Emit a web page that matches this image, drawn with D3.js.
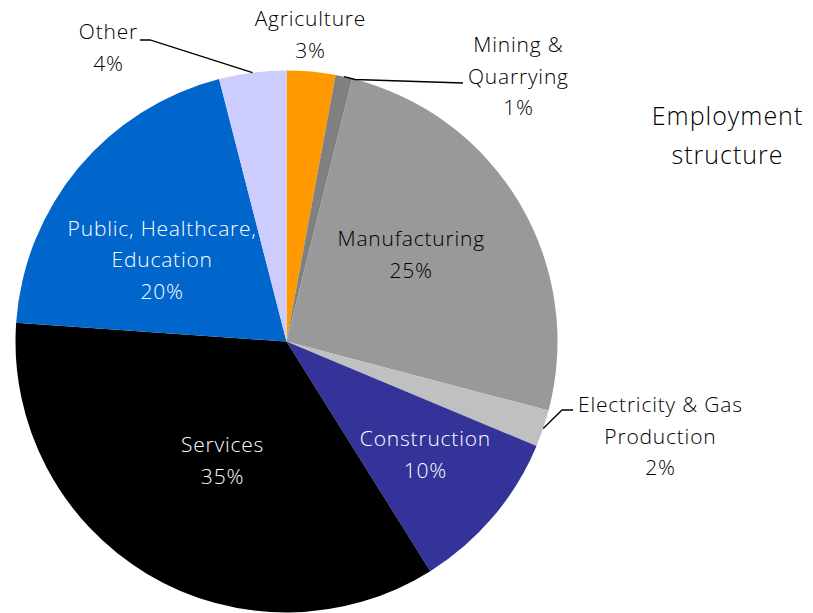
<!DOCTYPE html>
<html><head><meta charset="utf-8">
<script src="https://cdn.jsdelivr.net/npm/d3@7/dist/d3.min.js"></script>
<style>html,body{margin:0;padding:0;background:#fff;}svg{display:block;font-family:"Open Sans",Lato,sans-serif;font-weight:300;}</style>
</head><body>
<svg id="c" width="813" height="613"></svg>
<script>
const categories = ["Agriculture","Mining & Quarrying","Manufacturing","Electricity & Gas Production","Construction","Services","Public, Healthcare, Education","Other"];
const values = [2.9, 1.0, 25.2, 2.2, 9.8, 35.0, 19.9, 4.0];
const colors = ["#FF9900","#808080","#999999","#C0C0C0","#333399","#000000","#0066CC","#CCCCFF"];
const labelLines = [["Agriculture"],["Mining &","Quarrying"],["Manufacturing"],["Electricity & Gas","Production"],["Construction"],["Services"],["Public, Healthcare,","Education"],["Other"]];
const title = ["Employment","structure"];

const svg = d3.select("#c");
const cx = 286.5, cy = 341.5, R = 271;
const g = svg.append("g").attr("transform",`translate(${cx},${cy})`);
const pie = d3.pie().sort(null).value(d=>d);
const arcs = pie(values);
const arc = d3.arc().innerRadius(0).outerRadius(R);
g.selectAll("path").data(arcs).enter().append("path")
  .attr("d",arc).attr("fill",(d,i)=>colors[i]);

// label layout (inside: radius factor + angle shift from mid angle; outside: absolute anchor)
const inside = {2:{f:0.56,da:-4.4,fill:"#000"},4:{f:0.66,da:-1.1,fill:"#fff"},5:{f:0.50,da:-2.6,fill:"#fff"},6:{f:0.55,da:-6.6,fill:"#fff"}};
const outside = {0:{x:310,y:19},1:{x:518,y:45},3:{x:660,y:405},7:{x:108,y:32}};
const lh = 31.5, fs = 21, ls = 0.8;
const mid = d => (d.startAngle+d.endAngle)/2;
const pt = (a,r)=>[Math.sin(a)*r, -Math.cos(a)*r];

arcs.forEach((d,i)=>{
  const lines = labelLines[i].concat([Math.round(values[i])+"%"]);
  let x, y0, fill;
  if (inside[i]) {
    const p = pt(mid(d)+inside[i].da*Math.PI/180, R*inside[i].f);
    x = cx+p[0]; y0 = cy+p[1] - lh*(lines.length-1)/2; fill = inside[i].fill;
  } else {
    x = outside[i].x; y0 = outside[i].y; fill = "#000";
  }
  const t = svg.append("text").attr("text-anchor","middle").attr("font-size",fs)
    .attr("letter-spacing",ls).attr("fill",fill);
  lines.forEach((s,k)=>t.append("tspan").attr("x",x+ls/2).attr("y",y0+k*lh).attr("dy","0.35em").text(s));
});

// leader lines
const leaders = {7:[[150,40],[140,40]],1:[[355,79.5],[463,83]],3:[[562,410],[573,410]]};
Object.keys(leaders).forEach(k=>{
  const d = arcs[+k];
  const p = pt(mid(d), R);
  const pts = [[cx+p[0],cy+p[1]]].concat(leaders[k]);
  svg.append("path").attr("d",d3.line()(pts)).attr("fill","none").attr("stroke","#000").attr("stroke-width",1.3);
});

const tt = svg.append("text").attr("text-anchor","middle").attr("font-size",25)
  .attr("letter-spacing",1).attr("fill","#000");
title.forEach((s,k)=>tt.append("tspan").attr("x",727.5).attr("y",116+k*39).attr("dy","0.35em").text(s));
</script>
</body></html>
